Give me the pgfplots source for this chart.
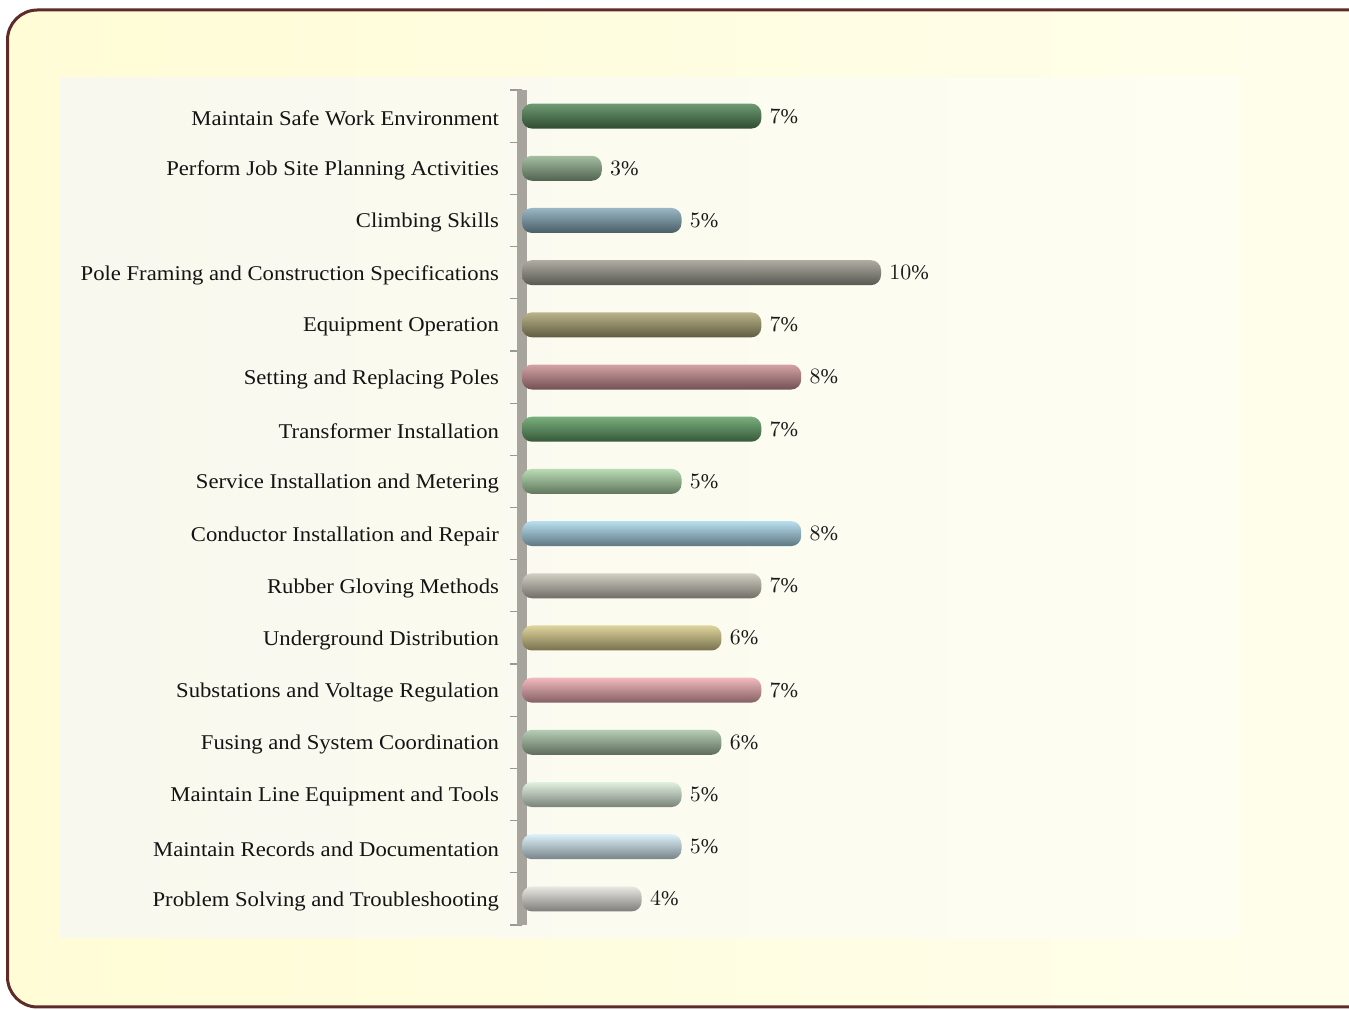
\documentclass[border=0pt]{standalone}
\usepackage{fontspec}
\setmainfont{Liberation Serif}
\newfontfamily\labfont[FakeStretch=1.08]{Liberation Serif}
\usepackage{pgfplots}
\pgfplotsset{compat=1.18}
\definecolor{bordercol}{HTML}{5E2A2A}
\definecolor{bgA}{HTML}{FFFCD6}
\definecolor{bgB}{HTML}{FFFEEC}
\definecolor{inA}{HTML}{F8F8EE}
\definecolor{inB}{HTML}{FFFEF2}
\definecolor{wallgray}{HTML}{A6A49C}
\definecolor{cA}{HTML}{55895A}
\definecolor{cB}{HTML}{93B391}
\definecolor{cC}{HTML}{86AAB9}
\definecolor{cD}{HTML}{A09E92}
\definecolor{cE}{HTML}{ADA675}
\definecolor{cF}{HTML}{CE9296}
\definecolor{cG}{HTML}{62A066}
\definecolor{cH}{HTML}{AED6A8}
\definecolor{cI}{HTML}{ACD9EC}
\definecolor{cJ}{HTML}{CAC7B9}
\definecolor{cK}{HTML}{D9CC8C}
\definecolor{cL}{HTML}{F0AEB3}
\definecolor{cM}{HTML}{A9C4A8}
\definecolor{cN}{HTML}{DCEEDC}
\definecolor{cO}{HTML}{D8EFF8}
\definecolor{cP}{HTML}{E6E4DE}
\pgfplotsset{
  cyl/.style={xbar, bar width=12.5pt, bar shift=0pt, draw=none, rounded corners=5pt,
    top color=#1!85!white, middle color=#1!60!white, bottom color=#1!55!black},
}
\begin{document}
\begin{tikzpicture}
\path[use as bounding box] (0pt,0pt) rectangle (674.5pt,505pt);
\begin{scope}
\clip (0pt,0pt) rectangle (674.5pt,505pt);
\shade[left color=bgA, right color=bgB, rounded corners=15pt] (3.75pt,1.5pt) rectangle (700pt,500pt);
\fill[left color=inA, right color=inB] (30pt,36pt) rectangle (620pt,466pt);
\draw[bordercol, line width=1.5pt, rounded corners=15pt] (3.75pt,1.5pt) rectangle (700pt,500pt);
\end{scope}
\begin{axis}[
  at={(261pt,42.5pt)}, anchor=south west,
  scale only axis, width=359pt, height=417.5pt,
  xmin=1, xmax=19, ymin=0.5, ymax=16.5,
  y dir=reverse,
  axis x line=none,
  axis y line*=left,
  y axis line style={-, line width=5pt, draw=wallgray},
  ytick={1,...,16},
  minor ytick={0.5,1.5,...,16.5},
  major tick length=0pt,
  minor tick length=6pt,
  tick align=outside,
  minor tick style={draw=gray!80, line width=0.6pt},
  yticklabels={Maintain Safe Work Environment, Perform Job Site Planning Activities, Climbing Skills, Pole Framing and Construction Specifications, Equipment Operation, Setting and Replacing Poles, Transformer Installation, Service Installation and Metering, Conductor Installation and Repair, Rubber Gloving Methods, Underground Distribution, Substations and Voltage Regulation, Fusing and System Coordination, Maintain Line Equipment and Tools, Maintain Records and Documentation, Problem Solving and Troubleshooting},
  yticklabel style={font=\labfont\fontsize{10.5}{12}\selectfont, text=black!92, xshift=-8pt, yshift=-1.2pt},
  nodes near coords={\pgfmathprintnumber{\pgfplotspointmeta}\%},
  point meta=x,
  every node near coord/.append style={font=\fontsize{10.5}{12}\selectfont, text=black!90, inner sep=4pt},
  clip=false,
]
\addplot[cyl=cA] coordinates {(7,1)};
\addplot[cyl=cB] coordinates {(3,2)};
\addplot[cyl=cC] coordinates {(5,3)};
\addplot[cyl=cD] coordinates {(10,4)};
\addplot[cyl=cE] coordinates {(7,5)};
\addplot[cyl=cF] coordinates {(8,6)};
\addplot[cyl=cG] coordinates {(7,7)};
\addplot[cyl=cH] coordinates {(5,8)};
\addplot[cyl=cI] coordinates {(8,9)};
\addplot[cyl=cJ] coordinates {(7,10)};
\addplot[cyl=cK] coordinates {(6,11)};
\addplot[cyl=cL] coordinates {(7,12)};
\addplot[cyl=cM] coordinates {(6,13)};
\addplot[cyl=cN] coordinates {(5,14)};
\addplot[cyl=cO] coordinates {(5,15)};
\addplot[cyl=cP] coordinates {(4,16)};
\end{axis}
\end{tikzpicture}
\end{document}
